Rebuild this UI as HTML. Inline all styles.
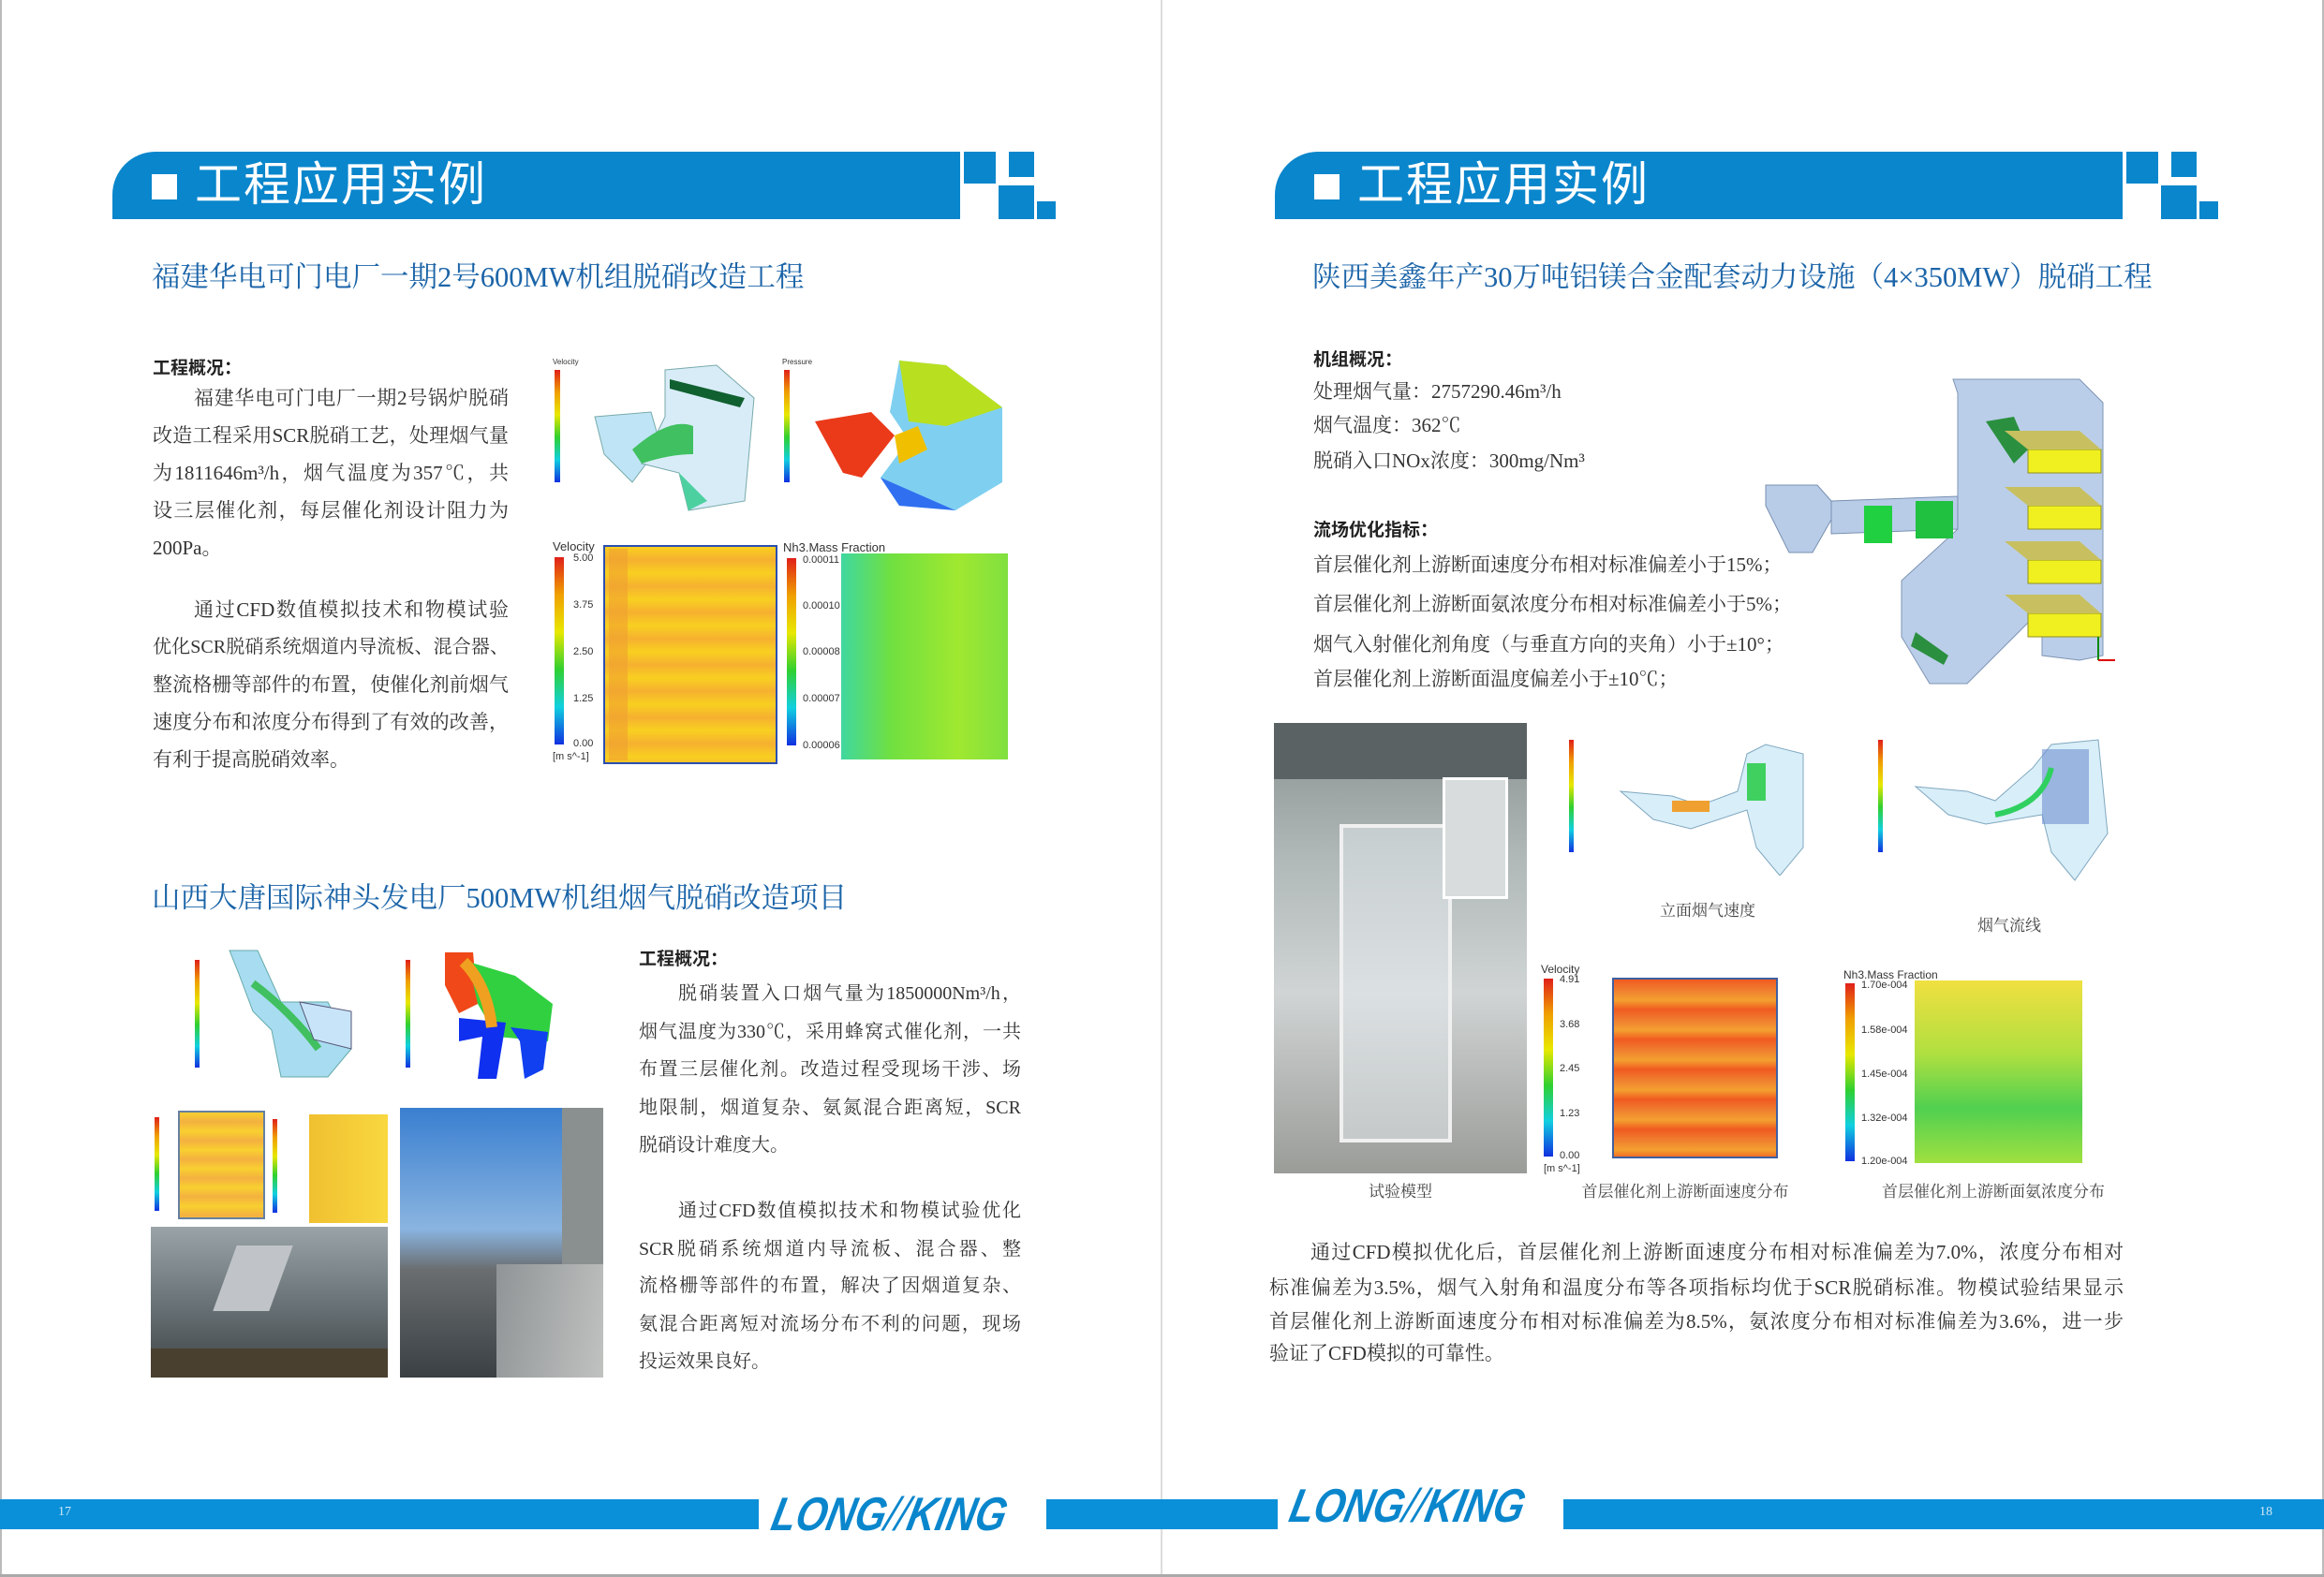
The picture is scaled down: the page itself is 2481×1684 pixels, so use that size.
<!DOCTYPE html>
<html><head><meta charset="utf-8">
<style>
*{margin:0;padding:0;box-sizing:border-box}
body{width:2481px;height:1684px;position:relative;background:#fff;overflow:hidden;font-family:"Liberation Serif","Noto Serif CJK SC",serif;color:#333}
.a{position:absolute}
.band{position:absolute;background:#0a86cc;height:72px;top:162px;border-top-left-radius:46px}
.sq{position:absolute;background:#0a86cc}
.ht{position:absolute;top:167px;color:#fff;font-family:"Liberation Sans","Noto Sans CJK SC",sans-serif;font-size:50px;line-height:60px;letter-spacing:2px}
.hb{position:absolute;top:186px;width:27px;height:27px;background:#fff}
.t1{position:absolute;color:#1b64a8;font-size:30.5px;line-height:36px;white-space:nowrap;font-family:"Liberation Serif","Noto Serif CJK SC",serif}
.h2{position:absolute;font-family:"Liberation Sans","Noto Sans CJK SC",sans-serif;font-weight:bold;font-size:19px;color:#222}
.l{position:absolute;font-size:21px;line-height:30px;text-align:justify;text-align-last:justify;color:#333;white-space:nowrap}
.m{font-size:20px}
.n{text-align-last:left}
.cap{position:absolute;font-size:17px;color:#444;white-space:nowrap;transform:translateX(-50%)}
.foot{position:absolute;top:1601px;height:32px;background:#0a90d8}
.logo{position:absolute;font-family:"Liberation Sans",sans-serif;font-weight:bold;font-style:italic;color:#0a86cc;font-size:42px;line-height:56px;transform:skewX(-12deg) scaleY(1.2);letter-spacing:0px;white-space:nowrap}
.leg{position:absolute;width:8px;background:linear-gradient(#e0201a,#f0a000,#e8e800,#30d030,#10d0e0,#1030e0)}
.lt{position:absolute;font-family:"Liberation Sans",sans-serif;font-size:11px;color:#333;white-space:nowrap}
</style></head><body>
<div class="a" style="left:0;top:0;width:2px;height:1684px;background:#bbb"></div>
<div class="a" style="left:2479px;top:0;width:2px;height:1684px;background:#bbb"></div>
<div class="a" style="left:1239px;top:0;width:2px;height:1684px;background:#ddd"></div>
<div class="a" style="left:0;top:1681px;width:2481px;height:3px;background:#aaa"></div>

<div class="band" style="left:120px;width:905px"></div>
<div class="sq" style="left:1029px;top:162px;width:34px;height:34px"></div>
<div class="sq" style="left:1077px;top:162px;width:27px;height:27px"></div>
<div class="sq" style="left:1066px;top:198px;width:38px;height:36px"></div>
<div class="sq" style="left:1107px;top:215px;width:20px;height:19px"></div>
<div class="hb" style="left:162px"></div>
<div class="ht" style="left:208px">工程应用实例</div>

<div class="band" style="left:1361px;width:905px"></div>
<div class="sq" style="left:2270px;top:162px;width:34px;height:34px"></div>
<div class="sq" style="left:2318px;top:162px;width:27px;height:27px"></div>
<div class="sq" style="left:2307px;top:198px;width:38px;height:36px"></div>
<div class="sq" style="left:2348px;top:215px;width:20px;height:19px"></div>
<div class="hb" style="left:1403px"></div>
<div class="ht" style="left:1449px">工程应用实例</div>

<div class="t1" style="left:162px;top:278px">福建华电可门电厂一期2号600MW机组脱硝改造工程</div>
<div class="h2" style="left:163px;top:378px">工程概况：</div>
<div class="l" style="left:163px;top:410px;width:380px;text-indent:44px">福建华电可门电厂一期2号锅炉脱硝</div>
<div class="l" style="left:163px;top:450px;width:380px">改造工程采用SCR脱硝工艺，处理烟气量</div>
<div class="l" style="left:163px;top:490px;width:380px">为1811646m³/h，烟气温度为357℃，共</div>
<div class="l" style="left:163px;top:530px;width:380px">设三层催化剂，每层催化剂设计阻力为</div>
<div class="l n" style="left:163px;top:570px;width:380px">200Pa。</div>
<div class="l" style="left:163px;top:636px;width:380px;text-indent:44px">通过CFD数值模拟技术和物模试验</div>
<div class="l" style="left:163px;top:676px;width:380px;font-size:20px">优化SCR脱硝系统烟道内导流板、混合器、</div>
<div class="l" style="left:163px;top:716px;width:380px">整流格栅等部件的布置，使催化剂前烟气</div>
<div class="l" style="left:163px;top:756px;width:380px">速度分布和浓度分布得到了有效的改善，</div>
<div class="l n" style="left:163px;top:796px;width:380px">有利于提高脱硝效率。</div>

<div class="leg" style="left:592px;top:395px;height:120px;width:6px"></div>
<div class="lt" style="left:590px;top:382px;font-size:8px">Velocity</div>
<svg class="a" style="left:615px;top:385px" width="210" height="165">
<polygon points="20,60 80,55 90,90 60,130 30,100" fill="#bfe4f5" stroke="#7aa" />
<polygon points="95,10 150,5 190,40 180,150 120,160 110,120 70,110 95,60" fill="#d8ecf8" stroke="#7aa"/>
<path d="M60,95 Q100,60 125,70 L125,100 Q100,100 70,110Z" fill="#40c060"/>
<path d="M100,20 L180,40 L175,50 L100,30Z" fill="#106030"/>
<path d="M110,120 L140,150 L120,160Z" fill="#4dd0a0"/>
</svg>
<div class="leg" style="left:837px;top:395px;height:120px;width:6px"></div>
<div class="lt" style="left:835px;top:382px;font-size:8px">Pressure</div>
<svg class="a" style="left:860px;top:380px" width="220" height="170">
<polygon points="10,70 70,60 95,85 60,130 40,125" fill="#ea3a1a"/>
<polygon points="100,5 150,10 210,55 210,135 160,165 100,160 80,130 110,90 90,60" fill="#7fd0f0"/>
<polygon points="100,5 150,10 210,55 150,75 110,70" fill="#b8e020"/>
<polygon points="80,130 160,165 100,160" fill="#3070f0"/>
<polygon points="95,85 120,75 130,100 100,115" fill="#f0c000"/>
</svg>
<div class="lt" style="left:590px;top:576px;font-size:13px">Velocity</div>
<div class="leg" style="left:592px;top:595px;height:200px;width:10px"></div>
<div class="lt" style="left:612px;top:590px">5.00</div><div class="lt" style="left:612px;top:640px">3.75</div><div class="lt" style="left:612px;top:690px">2.50</div><div class="lt" style="left:612px;top:740px">1.25</div><div class="lt" style="left:612px;top:788px">0.00</div><div class="lt" style="left:590px;top:802px">[m s^-1]</div>
<div class="a" style="left:644px;top:582px;width:186px;height:234px;border:2px solid #2b4fb0;background:repeating-linear-gradient(180deg,#f8d020 0,#f6b030 14px,#f8d020 28px);"></div>
<div class="a" style="left:650px;top:586px;width:20px;height:226px;background:#f0a030;opacity:.6"></div>
<div class="lt" style="left:836px;top:577px;font-size:13px">Nh3.Mass Fraction</div>
<div class="leg" style="left:840px;top:596px;height:200px;width:10px"></div>
<div class="lt" style="left:857px;top:592px">0.00011</div><div class="lt" style="left:857px;top:641px">0.00010</div><div class="lt" style="left:857px;top:690px">0.00008</div><div class="lt" style="left:857px;top:740px">0.00007</div><div class="lt" style="left:857px;top:790px">0.00006</div>
<div class="a" style="left:898px;top:591px;width:178px;height:220px;background:linear-gradient(90deg,#40d8a0,#70e040 30%,#a0e830 70%,#80e040);"></div>

<div class="t1" style="left:162px;top:941px">山西大唐国际神头发电厂500MW机组烟气脱硝改造项目</div>
<div class="h2" style="left:682px;top:1009px">工程概况：</div>
<div class="l m" style="left:682px;top:1046px;width:408px;text-indent:42px">脱硝装置入口烟气量为1850000Nm³/h，</div>
<div class="l m" style="left:682px;top:1087px;width:408px">烟气温度为330℃，采用蜂窝式催化剂，一共</div>
<div class="l m" style="left:682px;top:1127px;width:408px">布置三层催化剂。改造过程受现场干涉、场</div>
<div class="l m" style="left:682px;top:1168px;width:408px">地限制，烟道复杂、氨氮混合距离短，SCR</div>
<div class="l m n" style="left:682px;top:1208px;width:408px">脱硝设计难度大。</div>
<div class="l m" style="left:682px;top:1278px;width:408px;text-indent:42px">通过CFD数值模拟技术和物模试验优化</div>
<div class="l m" style="left:682px;top:1319px;width:408px">SCR脱硝系统烟道内导流板、混合器、整</div>
<div class="l m" style="left:682px;top:1358px;width:408px">流格栅等部件的布置，解决了因烟道复杂、</div>
<div class="l m" style="left:682px;top:1399px;width:408px">氨混合距离短对流场分布不利的问题，现场</div>
<div class="l m n" style="left:682px;top:1439px;width:408px">投运效果良好。</div>

<div class="leg" style="left:208px;top:1025px;height:115px;width:5px"></div>
<svg class="a" style="left:240px;top:1010px" width="170" height="150">
<polygon points="5,5 35,5 60,60 110,60 135,110 110,140 60,140 50,90 30,70 15,30" fill="#a8dcf0" stroke="#6aa"/>
<path d="M30,40 Q70,70 100,110" stroke="#40c060" stroke-width="8" fill="none"/>
<polygon points="80,60 135,70 135,110 95,100" fill="#c8e4f8" stroke="#557"/>
</svg>
<div class="leg" style="left:433px;top:1025px;height:115px;width:5px"></div>
<svg class="a" style="left:470px;top:1012px" width="150" height="145">
<polygon points="5,5 35,5 40,60 20,70 5,40" fill="#f04818"/>
<polygon points="30,15 80,30 120,60 115,100 60,95 40,60" fill="#30d040"/>
<polygon points="20,75 70,80 60,140 40,140 45,95 20,100" fill="#1030f0"/>
<polygon points="75,85 115,90 110,130 90,140 85,100" fill="#1040f0"/>
<path d="M25,15 Q50,40 55,85" stroke="#f0a020" stroke-width="12" fill="none"/>
</svg>
<div class="leg" style="left:165px;top:1193px;height:100px;width:5px"></div>
<div class="a" style="left:190px;top:1186px;width:93px;height:116px;border:2px solid #6680a0;background:repeating-linear-gradient(180deg,#f8d030 0,#f4b040 10px,#f8d030 20px)"></div>
<div class="leg" style="left:291px;top:1195px;height:100px;width:5px"></div>
<div class="a" style="left:330px;top:1190px;width:84px;height:116px;background:linear-gradient(90deg,#f0c030,#f8d840)"></div>
<div class="a" style="left:161px;top:1310px;width:253px;height:161px;background:linear-gradient(180deg,#9aa4a8,#6a7478 50%,#3e4244);"></div>
<div class="a" style="left:240px;top:1330px;width:60px;height:70px;background:#c0c4c8;transform:skewX(-20deg)"></div>
<div class="a" style="left:161px;top:1440px;width:253px;height:31px;background:#4a4030"></div>
<div class="a" style="left:427px;top:1183px;width:217px;height:288px;background:linear-gradient(180deg,#3a7fd0,#8ab4e0 45%,#6a6e70 60%,#3a4044);"></div>
<div class="a" style="left:600px;top:1183px;width:44px;height:180px;background:#8a9090"></div>
<div class="a" style="left:530px;top:1350px;width:114px;height:121px;background:linear-gradient(100deg,#909496,#c0c2c0);"></div>

<div class="t1" style="left:1401px;top:278px">陕西美鑫年产30万吨铝镁合金配套动力设施（4×350MW）脱硝工程</div>
<div class="h2" style="left:1402px;top:369px">机组概况：</div>
<div class="l n" style="left:1402px;top:403px;width:500px">处理烟气量：2757290.46m³/h</div>
<div class="l n" style="left:1402px;top:439px;width:500px">烟气温度：362℃</div>
<div class="l n" style="left:1402px;top:477px;width:500px">脱硝入口NOx浓度：300mg/Nm³</div>
<div class="h2" style="left:1402px;top:551px">流场优化指标：</div>
<div class="l n" style="left:1402px;top:588px;width:600px">首层催化剂上游断面速度分布相对标准偏差小于15%；</div>
<div class="l n" style="left:1402px;top:630px;width:600px">首层催化剂上游断面氨浓度分布相对标准偏差小于5%；</div>
<div class="l n" style="left:1402px;top:673px;width:600px">烟气入射催化剂角度（与垂直方向的夹角）小于±10°；</div>
<div class="l n" style="left:1402px;top:710px;width:600px">首层催化剂上游断面温度偏差小于±10℃；</div>

<svg class="a" style="left:1880px;top:400px" width="410" height="355">
<polygon points="5,118 60,118 75,135 75,155 55,190 30,190 5,140" fill="#b8cce8" stroke="#7890b0"/>
<polygon points="75,135 210,130 210,165 75,170" fill="#b8cce8" stroke="#7890b0"/>
<polygon points="205,5 340,5 365,30 365,300 340,305 300,300 300,250 220,330 180,330 150,280 150,220 210,165 210,20" fill="#b8cce8" stroke="#7890b0" opacity=".95"/>
<polygon points="240,50 270,45 285,80 270,95" fill="#2a9040"/>
<rect x="110" y="140" width="30" height="40" fill="#20d040"/><rect x="165" y="135" width="40" height="40" fill="#20c040"/>
<g fill="#f0f020" stroke="#909020"><rect x="285" y="80" width="78" height="25"/><rect x="285" y="140" width="78" height="25"/><rect x="285" y="198" width="78" height="25"/><rect x="285" y="255" width="78" height="25"/></g>
<g fill="#c8c060"><polygon points="260,60 285,80 363,80 340,60"/><polygon points="260,120 285,140 363,140 340,120"/><polygon points="260,178 285,198 363,198 340,178"/><polygon points="260,235 285,255 363,255 340,235"/></g>
<polygon points="165,275 200,300 195,310 160,290" fill="#2a9040"/>
<line x1="360" y1="280" x2="360" y2="305" stroke="#080" stroke-width="2"/><line x1="360" y1="305" x2="378" y2="305" stroke="#d00" stroke-width="2"/>
</svg>

<div class="a" style="left:1360px;top:772px;width:270px;height:481px;background:linear-gradient(180deg,#8a9290,#b0b8b8 30%,#d0d4d4 60%,#9a9c98);"></div>
<div class="a" style="left:1360px;top:772px;width:270px;height:60px;background:#5a6264"></div>
<div class="a" style="left:1430px;top:880px;width:120px;height:340px;border:4px solid #f0f0f0;background:rgba(230,235,240,.5)"></div>
<div class="a" style="left:1540px;top:830px;width:70px;height:130px;background:#d8dcdc;border:3px solid #fff"></div>
<div class="cap" style="left:1495px;top:1258px">试验模型</div>

<div class="leg" style="left:1675px;top:790px;height:120px;width:5px"></div>
<svg class="a" style="left:1725px;top:785px" width="240" height="150">
<polygon points="5,60 60,65 90,75 130,60 140,20 160,10 200,20 200,120 175,150 150,120 140,80 80,100 40,90" fill="#d8eef8" stroke="#80a8c0"/>
<rect x="60" y="70" width="40" height="12" fill="#f0a030"/><rect x="140" y="30" width="20" height="40" fill="#40d060"/>
</svg>
<div class="cap" style="left:1823px;top:958px">立面烟气速度</div>
<div class="leg" style="left:2005px;top:790px;height:120px;width:5px"></div>
<svg class="a" style="left:2040px;top:780px" width="250" height="165">
<polygon points="5,60 60,65 90,75 130,40 150,15 200,10 210,110 175,160 150,130 140,90 80,100 40,90" fill="#d8eef8" stroke="#80a8c0"/>
<rect x="140" y="20" width="50" height="80" fill="#7090d0" opacity=".6"/><path d="M90,90 Q140,80 150,40" stroke="#30d060" stroke-width="6" fill="none"/>
</svg>
<div class="cap" style="left:2145px;top:974px">烟气流线</div>

<div class="lt" style="left:1645px;top:1028px;font-size:12px">Velocity</div>
<div class="leg" style="left:1648px;top:1045px;height:190px;width:10px"></div>
<div class="lt" style="left:1665px;top:1040px">4.91</div><div class="lt" style="left:1665px;top:1088px">3.68</div><div class="lt" style="left:1665px;top:1135px">2.45</div><div class="lt" style="left:1665px;top:1183px">1.23</div><div class="lt" style="left:1665px;top:1228px">0.00</div><div class="lt" style="left:1648px;top:1242px">[m s^-1]</div>
<div class="a" style="left:1721px;top:1044px;width:177px;height:193px;border:2px solid #4060a0;background:repeating-linear-gradient(180deg,#f05a20 0,#f08030 12px,#f4a030 22px,#f05a20 32px)"></div>
<div class="cap" style="left:1799px;top:1258px">首层催化剂上游断面速度分布</div>
<div class="lt" style="left:1968px;top:1034px;font-size:12px">Nh3.Mass Fraction</div>
<div class="leg" style="left:1970px;top:1050px;height:190px;width:10px"></div>
<div class="lt" style="left:1987px;top:1046px">1.70e-004</div><div class="lt" style="left:1987px;top:1094px">1.58e-004</div><div class="lt" style="left:1987px;top:1141px">1.45e-004</div><div class="lt" style="left:1987px;top:1188px">1.32e-004</div><div class="lt" style="left:1987px;top:1234px">1.20e-004</div>
<div class="a" style="left:2044px;top:1047px;width:179px;height:195px;background:linear-gradient(180deg,#f0e040,#b0e040 40%,#50d050 70%,#a0e040);"></div>
<div class="cap" style="left:2128px;top:1258px">首层催化剂上游断面氨浓度分布</div>

<div class="l" style="left:1355px;top:1322px;width:912px;font-size:21px;text-indent:44px">通过CFD模拟优化后，首层催化剂上游断面速度分布相对标准偏差为7.0%，浓度分布相对</div>
<div class="l" style="left:1355px;top:1360px;width:912px;font-size:21px">标准偏差为3.5%，烟气入射角和温度分布等各项指标均优于SCR脱硝标准。物模试验结果显示</div>
<div class="l" style="left:1355px;top:1396px;width:912px;font-size:21px">首层催化剂上游断面速度分布相对标准偏差为8.5%，氨浓度分布相对标准偏差为3.6%，进一步</div>
<div class="l n" style="left:1355px;top:1430px;width:912px;font-size:21px">验证了CFD模拟的可靠性。</div>

<div class="foot" style="left:0;width:810px"></div>
<div class="foot" style="left:1117px;width:247px"></div>
<div class="foot" style="left:1669px;width:812px"></div>
<div class="a" style="left:62px;top:1607px;color:#cfe8f8;font-size:14px">17</div>
<div class="a" style="left:2412px;top:1607px;color:#cfe8f8;font-size:14px">18</div>
<div class="logo" style="left:825px;top:1589px">LONG<span style="font-weight:normal">//</span>KING</div>
<div class="logo" style="left:1378px;top:1580px">LONG<span style="font-weight:normal">//</span>KING</div>
</body></html>
